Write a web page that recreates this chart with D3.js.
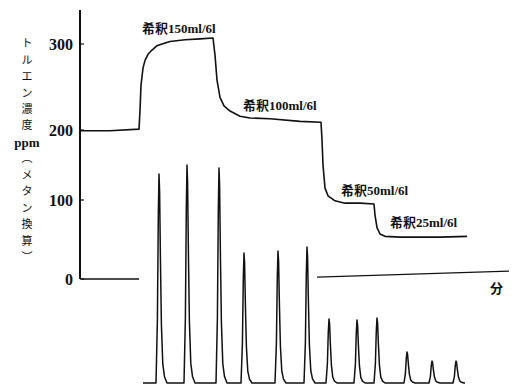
<!DOCTYPE html>
<html>
<head>
<meta charset="utf-8">
<script src="https://cdn.jsdelivr.net/npm/d3@7"></script>
<style>
  body { margin: 0; background: #fff; }
  svg { display: block; }
  .tick-label { font-family: "Liberation Serif", serif; font-weight: bold; font-size: 16px; fill: #111; }
  .note { font-family: "Liberation Serif", "Noto Sans CJK JP", serif; font-weight: bold; font-size: 13px; fill: #111; }
  .ylab { font-family: "Noto Sans CJK JP", sans-serif; font-size: 11px; fill: #111; }
</style>
</head>
<body>
<svg id="chart" width="514" height="386"></svg>
<script>
// --- data ---
// concentration trace (time in arbitrary minute units, ppm methane equivalent)
const traceTime = [1, 30, 59, 60, 61, 63, 65, 68, 72, 77, 82, 90, 105, 120, 133, 135, 137, 140, 144, 150, 160, 170, 190, 220, 241, 242, 243, 245, 248, 255, 265, 280, 294, 295, 297, 300, 305, 320, 360, 387];
const tracePpm  = [199, 199, 201, 223, 252, 272, 281, 288, 293, 298, 300, 303, 305, 306, 307, 287, 258, 238, 228, 222, 216, 214, 213, 210, 209, 186, 150, 117, 106, 99, 96, 96, 95, 81, 65, 57, 54, 53, 53, 54];

// zero line at the start and the later time line
const zeroTime = [1, 59];
const zeroPpm = [0, 0];
const timeLineTime = [237, 429];
const timeLinePpm = [2.5, 10];

// chromatogram peaks (apex time, relative height)
const peakTime = [79, 107, 139, 164, 198, 227, 249, 277, 297, 327, 352, 376];
const peakHeight = [209, 218, 215, 130, 132, 136, 64, 63, 65, 31, 22, 22];
const chromStart = 63, chromEnd = 385;

// annotations
const dilutionLabels = ["希釈150ml/6l", "希釈100ml/6l", "希釈50ml/6l", "希釈25ml/6l"];
const dilutionTime = [62, 163, 261, 310];
const dilutionPpm = [318, 229, 114, 71];

const yTicks = [0, 100, 200, 300];
const yLabelChars = ["ト", "ル", "エ", "ン", "濃", "度", "ppm", "︵", "メ", "タ", "ン", "換", "算", "︶"];
const xUnit = "分";

// --- scales (the scan is slightly uneven, so the ppm scale is piecewise) ---
const svg = d3.select("#chart");
const x = d3.scaleLinear().domain([0, 430]).range([80, 510]);
const y = d3.scaleLinear().domain([0, 100, 200, 300]).range([279, 200, 130, 44]);
const yPeak = d3.scaleLinear().domain([0, 220]).range([383, 163]);

// y axis line and ticks
svg.append("line")
    .attr("x1", 80).attr("x2", 80)
    .attr("y1", 10).attr("y2", y(0))
    .attr("stroke", "#111").attr("stroke-width", 2);

const ticks = svg.append("g");
ticks.selectAll("line").data(yTicks).enter().append("line")
    .attr("x1", 80).attr("x2", 84)
    .attr("y1", d => y(d)).attr("y2", d => y(d))
    .attr("stroke", "#111").attr("stroke-width", 1.2);
ticks.selectAll("text").data(yTicks).enter().append("text")
    .attr("class", "tick-label")
    .attr("x", 73).attr("y", d => y(d))
    .attr("dy", "0.35em")
    .attr("text-anchor", "end")
    .text(d => d);

// vertical y label, one glyph at a time
const yl = d3.scalePoint().domain(d3.range(yLabelChars.length)).range([43, 257]);
svg.append("g").selectAll("text").data(yLabelChars).enter().append("text")
    .attr("class", "ylab")
    .attr("x", 27).attr("y", (d, i) => yl(i))
    .attr("dy", "0.38em")
    .attr("text-anchor", "middle")
    .style("font-family", d => d === "ppm" ? "Liberation Serif, serif" : null)
    .style("font-weight", d => d === "ppm" ? "bold" : null)
    .style("font-size", d => d === "ppm" ? "13px" : null)
    .text(d => d);

// concentration trace
const line = d3.line().x(d => x(d[0])).y(d => y(d[1]));
svg.append("path")
    .datum(d3.zip(traceTime, tracePpm))
    .attr("d", line)
    .attr("fill", "none").attr("stroke", "#111").attr("stroke-width", 1.6)
    .attr("stroke-linejoin", "round");

svg.append("path")
    .datum(d3.zip(zeroTime, zeroPpm))
    .attr("d", line)
    .attr("fill", "none").attr("stroke", "#111").attr("stroke-width", 1.4);

svg.append("path")
    .datum(d3.zip(timeLineTime, timeLinePpm))
    .attr("d", line)
    .attr("fill", "none").attr("stroke", "#111").attr("stroke-width", 1.3);

svg.append("text")
    .attr("class", "note")
    .attr("x", x(timeLineTime[1]) - 6).attr("y", 293)
    .attr("text-anchor", "end")
    .text(xUnit);

// chromatogram: baseline with tailing peaks
const peakShape = [[-3, 0], [-1.6, 0.3], [-0.7, 0.8], [0, 1], [0.6, 0.92], [1.4, 0.6], [2.4, 0.28], [3.8, 0.09], [5.5, 0.03], [8, 0]];
const chromPts = [[chromStart, 0]];
peakTime.forEach((t, i) => {
  peakShape.forEach(s => chromPts.push([t + s[0], peakHeight[i] * s[1]]));
});
chromPts.push([chromEnd, 0]);
svg.append("path")
    .datum(chromPts)
    .attr("d", d3.line().x(d => x(d[0])).y(d => yPeak(d[1])))
    .attr("fill", "none").attr("stroke", "#111").attr("stroke-width", 1.5)
    .attr("stroke-linejoin", "round");

// dilution notes
svg.append("g").selectAll("text").data(dilutionLabels).enter().append("text")
    .attr("class", "note")
    .attr("x", (d, i) => x(dilutionTime[i]))
    .attr("y", (d, i) => y(dilutionPpm[i]))
    .attr("dy", "0.35em")
    .text(d => d);
</script>
</body>
</html>
